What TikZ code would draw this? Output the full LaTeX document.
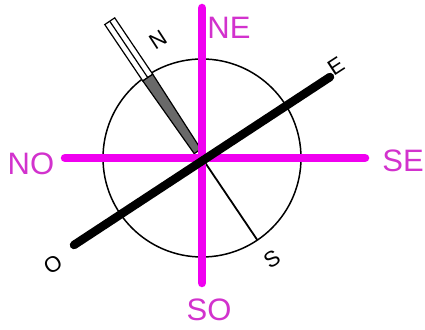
\documentclass[tikz,border=0pt]{standalone}
\usepackage{fontspec}
\setmainfont{Liberation Sans}
\definecolor{mag}{RGB}{240,0,240}
\definecolor{magtext}{RGB}{210,50,205}
\definecolor{needlegray}{RGB}{105,105,105}
\begin{document}
\begin{tikzpicture}[x=1pt,y=1pt,
  bigline/.style={line width=8.5pt,line cap=round},
  biglabel/.style={text=magtext,font=\fontsize{31}{31}\selectfont,inner sep=0pt},
  smalllabel/.style={text=black,font=\fontsize{22}{22}\selectfont,inner sep=0pt,rotate=33}]
\path[use as bounding box] (0,0) rectangle (425,329);
\coordinate (c) at (202,171);
% circle
\draw[line width=1.5pt] (c) circle (99);
% needle
\begin{scope}[shift={(c)},rotate=124]
  \coordinate (ntip) at (165,0);
  \coordinate (nmid) at (97,0);
  \coordinate (stip) at (-99,0);
  \draw[line width=1.2pt,fill=white] (97,-6) rectangle (165,6);
  \draw[line width=1.2pt] (nmid) -- (ntip);
  \draw[line width=1.2pt,fill=needlegray] (97,-6) -- (97,6) -- (8,4) -- (8,-4) -- cycle;
  \draw[line width=1.8pt] (c) -- (stip);
\end{scope}
% magenta cross
\coordinate (vt) at (202,321);
\coordinate (vb) at (202,46);
\coordinate (hl) at (65,171);
\coordinate (hr) at (365,171);
\draw[bigline,mag] (vt) -- (vb);
\draw[bigline,mag] (hl) -- (hr);
% black O-E line
\coordinate (oend) at (74,84);
\coordinate (eend) at (330,252);
\draw[bigline,black] (oend) -- (eend);
% labels
\node[biglabel] (ne) at (229,301) {NE};
\node[biglabel] (no) at (31,165) {NO};
\node[biglabel] (se) at (403,168) {SE};
\node[biglabel] (so) at (209,19) {SO};
\node[smalllabel] (n) at (158,289) {N};
\node[smalllabel] (e) at (336,263) {E};
\node[smalllabel] (o) at (53,65) {O};
\node[smalllabel] (s) at (272,70) {S};
\end{tikzpicture}
\end{document}
